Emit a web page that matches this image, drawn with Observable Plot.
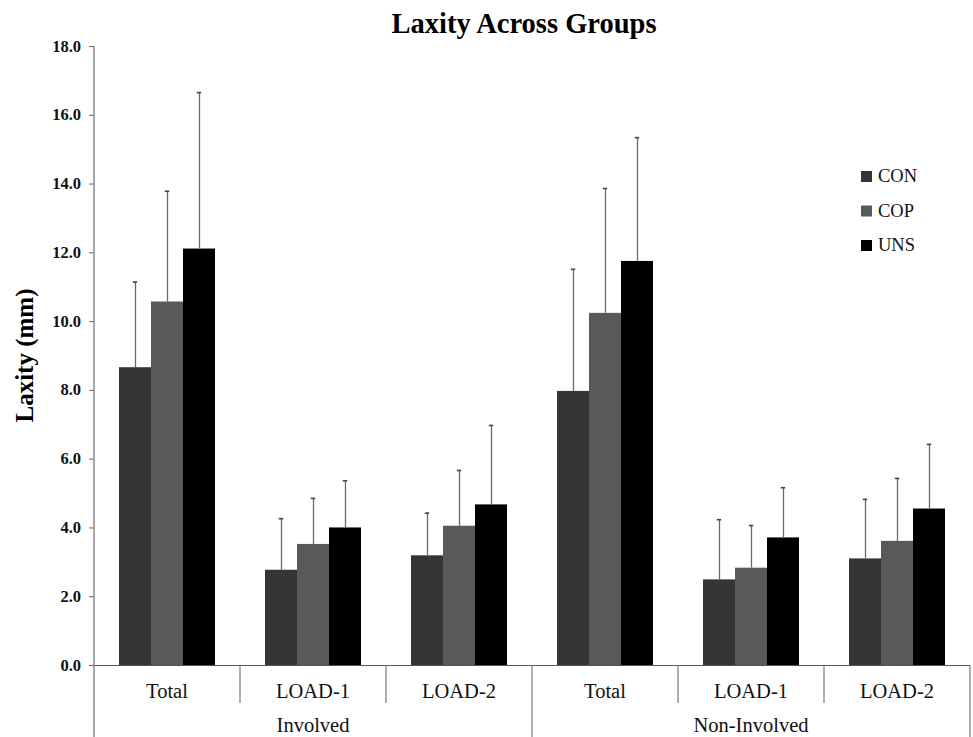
<!DOCTYPE html>
<html>
<head>
<meta charset="utf-8">
<script src="https://cdn.jsdelivr.net/npm/d3@7"></script>
<script src="https://cdn.jsdelivr.net/npm/@observablehq/plot@0.6"></script>
<style>
  html, body { margin: 0; padding: 0; background: #fff; overflow: hidden; }
  #chart svg { display: block; }
</style>
</head>
<body>
<div id="chart"></div>
<script>
// ---- Data ----
const title = "Laxity Across Groups";
const yLabel = "Laxity (mm)";
const groups = ["Involved", "Involved", "Involved", "Non-Involved", "Non-Involved", "Non-Involved"];
const categories = ["Total", "LOAD-1", "LOAD-2", "Total", "LOAD-1", "LOAD-2"];
const series = ["CON", "COP", "UNS"];
const seriesColors = ["#353535", "#595959", "#000000"];
const conMean = [8.66, 2.77, 3.19, 7.97, 2.49, 3.10];
const conSD   = [2.49, 1.50, 1.24, 3.55, 1.75, 1.73];
const copMean = [10.57, 3.52, 4.05, 10.24, 2.83, 3.61];
const copSD   = [3.22, 1.34, 1.62, 3.63, 1.24, 1.83];
const unsMean = [12.11, 4.00, 4.67, 11.75, 3.71, 4.55];
const unsSD   = [4.55, 1.37, 2.31, 3.60, 1.46, 1.88];
const yTicks = [0, 2, 4, 6, 8, 10, 12, 14, 16, 18];

// ---- Table built from the arrays ----
const means = [conMean, copMean, unsMean];
const sds = [conSD, copSD, unsSD];
const keys = categories.map((c, i) => `${groups[i]}|${c}|${i}`);
const rows = [];
keys.forEach((k, i) => {
  series.forEach((s, j) => {
    rows.push({key: k, group: groups[i], category: categories[i], series: s,
               mean: means[j][i], top: means[j][i] + sds[j][i]});
  });
});

const W = 973, H = 737;
const font = "'Liberation Serif', 'Times New Roman', serif";

const chart = Plot.plot({
  width: W,
  height: H,
  marginLeft: 91,
  marginRight: 1,
  marginTop: 46,
  marginBottom: 72,
  style: {fontFamily: font, fontSize: "16px", color: "#111", background: "#fff"},
  fx: {domain: keys, padding: 0, axis: null, label: null},
  x: {domain: series, paddingInner: 0, paddingOuter: 0.745, axis: null},
  y: {domain: [0, 18], axis: null},
  color: {domain: series, range: seriesColors},
  marks: [
    Plot.barY(rows, {fx: "key", x: "series", y: "mean", fill: "series"}),
    Plot.ruleX(rows, {fx: "key", x: "series", y1: "mean", y2: "top", stroke: "#6a6a6a", strokeWidth: 1.3}),
    Plot.tickY(rows, {fx: "key", x: "series", y: "top", stroke: "#444", strokeWidth: 1.6, insetLeft: 13.8, insetRight: 13.8}),
    Plot.ruleY([0], {stroke: "#555", strokeWidth: 1.2}),
    Plot.axisY({ticks: yTicks, tickFormat: () => "", tickSize: 5, label: null, stroke: "#666"})
  ]
});

document.getElementById("chart").appendChild(chart);

// ---- Extra annotations placed with the plot's own scales ----
const svg = d3.select(chart);
const fx = chart.scale("fx");
const y = chart.scale("y");
const bw = fx.bandwidth;
const x0 = fx.apply(keys[0]);
const xEnd = fx.apply(keys[keys.length - 1]) + bw;
const y0 = y.apply(0);
const yTop = y.apply(18);
const fmt = d3.format(".1f");

// y tick labels
yTicks.forEach(t => {
  svg.append("text").attr("x", x0 - 13).attr("y", y.apply(t)).attr("dy", "0.34em")
    .attr("text-anchor", "end").attr("font-size", 16.5).attr("font-weight", "bold")
    .attr("fill", "#111").attr("font-family", font).text(fmt(t));
});

// y axis line
svg.append("line").attr("x1", x0).attr("x2", x0).attr("y1", yTop).attr("y2", H)
  .attr("stroke", "#7a7a7a").attr("stroke-width", 1.3);

// category separators and labels
keys.forEach((k, i) => {
  const left = fx.apply(k);
  const isGroupStart = i === 0 || groups[i] !== groups[i - 1];
  if (i > 0) {
    svg.append("line").attr("x1", left).attr("x2", left).attr("y1", y0)
      .attr("y2", isGroupStart ? H : y0 + 38)
      .attr("stroke", "#7a7a7a").attr("stroke-width", 1.2);
  }
  svg.append("text").attr("x", left + bw / 2).attr("y", y0 + 33)
    .attr("text-anchor", "middle").attr("font-size", 20.5).attr("fill", "#111")
    .attr("font-family", font).text(categories[i]);
});
// right edge line
svg.append("line").attr("x1", xEnd).attr("x2", xEnd).attr("y1", y0).attr("y2", H)
  .attr("stroke", "#7a7a7a").attr("stroke-width", 1.2);

// group labels
const groupNames = Array.from(new Set(groups));
groupNames.forEach(g => {
  const idx = keys.map((k, i) => i).filter(i => groups[i] === g);
  const a = fx.apply(keys[idx[0]]);
  const b = fx.apply(keys[idx[idx.length - 1]]) + bw;
  svg.append("text").attr("x", (a + b) / 2).attr("y", y0 + 67)
    .attr("text-anchor", "middle").attr("font-size", 20.5).attr("fill", "#111")
    .attr("font-family", font).text(g);
});

// title
svg.append("text").attr("x", 524).attr("y", 33).attr("text-anchor", "middle")
  .attr("font-size", 28.5).attr("font-weight", "bold").attr("fill", "#000")
  .attr("font-family", font).text(title);

// y label
svg.append("text").attr("transform", `translate(33, ${(yTop + y0) / 2}) rotate(-90)`)
  .attr("text-anchor", "middle").attr("font-size", 25).attr("font-weight", "bold")
  .attr("fill", "#000").attr("font-family", font).text(yLabel);

// legend
const legend = svg.append("g").attr("transform", "translate(861, 171)");
series.forEach((s, j) => {
  const g = legend.append("g").attr("transform", `translate(0, ${j * 34.5})`);
  g.append("rect").attr("width", 11).attr("height", 11).attr("fill", seriesColors[j]);
  g.append("text").attr("x", 17).attr("y", 11).attr("font-size", 18.5)
    .attr("text-anchor", "start")
    .attr("fill", "#111").attr("font-family", font).text(s);
});
</script>
</body>
</html>
